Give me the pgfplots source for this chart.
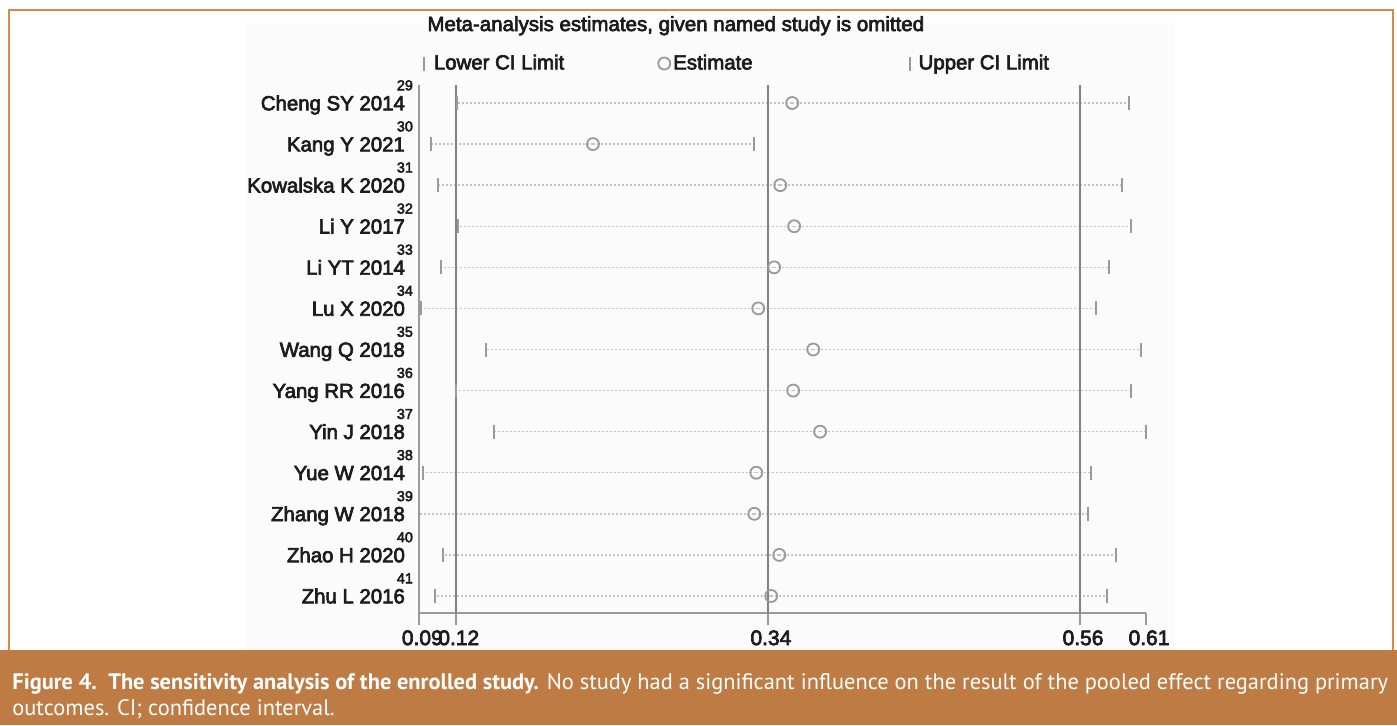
\documentclass[border=0pt]{standalone}
\usepackage{pgfplots}
\pgfplotsset{compat=1.18}
\usepackage{pgfplotstable}
\usepackage{fontspec}
\setmainfont{Liberation Sans}[FakeBold=3.2]
\newfontfamily\capfont{PT Sans}
\definecolor{band}{HTML}{BE7C44}
\definecolor{bord}{HTML}{D9894A}
\definecolor{refl}{HTML}{828282}
\definecolor{mk}{HTML}{9A9A9A}
\definecolor{dotc}{HTML}{C4C4C4}
\definecolor{txt}{HTML}{1C1C1C}
\definecolor{plotbg}{HTML}{FBFBFB}
\newcommand\refnum[1]{\makebox[0pt][r]{\raisebox{10pt}[0pt][0pt]{\fontsize{7.2pt}{7.2pt}\selectfont #1\kern-4pt}}}

\pgfplotstableread{
y lo est hi
1 0.1211 0.3571 0.5946
2 0.1027 0.2167 0.3304
3 0.1077 0.3487 0.5897
4 0.1218 0.3585 0.5960
5 0.1098 0.3444 0.5805
6 0.0955 0.3332 0.5713
7 0.1415 0.3719 0.6030
8 0.1204 0.3578 0.5960
9 0.1471 0.3768 0.6065
10 0.0971 0.3318 0.5678
11 0.0943 0.3304 0.5657
12 0.1112 0.3480 0.5854
13 0.1056 0.3423 0.5791
}\data

\begin{document}
\begin{tikzpicture}[x=0.5pt,y=0.5pt]
\useasboundingbox (0,0) rectangle (1397,725);
\fill[white] (0,0) rectangle (1397,725);
\fill[plotbg] (245,75) rectangle (1175,702);
\fill[band] (0,0) rectangle (1397,75);
\draw[bord, line width=1.2pt] (9,75) -- (9,715) -- (1393,715) -- (1393,75);
\node[anchor=base west, inner sep=0pt, text=white, font=\capfont\fontsize{11.2pt}{13pt}\selectfont] at (12,36) {\textbf{Figure 4.\ \ The sensitivity analysis of the enrolled study.} No study had a significant influence on the result of the pooled effect regarding primary};
\node[anchor=base west, inner sep=0pt, text=white, font=\capfont\fontsize{11.2pt}{13pt}\selectfont] at (12,10) {outcomes. CI; confidence interval.};

\begin{axis}[
  at={(209.65pt,56pt)}, anchor=south west, scale only axis,
  width=363.35pt, height=264pt,
  xmin=0.0943, xmax=0.6065, ymin=0.562, ymax=13.414, y dir=reverse,
  clip=false,
  axis x line*=bottom, axis y line*=left,
  axis line style={mk, line width=1pt, -},
  xtick={0.0943,0.12,0.34,0.56,0.6065},
  xticklabels={0.09,0.12,0.34,0.56,0.61},
  ytick={1,...,13},
  yticklabels={Cheng SY 2014\refnum{29}, Kang Y 2021\refnum{30}, Kowalska K 2020\refnum{31}, Li Y 2017\refnum{32}, Li YT 2014\refnum{33}, Lu X 2020\refnum{34}, Wang Q 2018\refnum{35}, Yang RR 2016\refnum{36}, Yin J 2018\refnum{37}, Yue W 2014\refnum{38}, Zhang W 2018\refnum{39}, Zhao H 2020\refnum{40}, Zhu L 2016\refnum{41}},
  xtick pos=bottom, ytick pos=left,
  tick align=outside, major tick length=6pt,
  xtick style={mk, line width=1pt},
  ytick style={draw=none},
  xticklabel style={inner sep=0pt, yshift=-2.5pt, xshift=1.5pt, font=\fontsize{10.5pt}{12pt}\selectfont, text=txt},
  yticklabel style={inner sep=0pt, anchor=base east, yshift=-3.65pt, xshift=-1pt, font=\fontsize{10.2pt}{12pt}\selectfont, text=txt},
  title={Meta-analysis estimates, given named study is omitted},
  title style={at={(0.0106,1.0795)}, anchor=base west, inner sep=0pt, font=\fontsize{10.25pt}{12pt}\selectfont, text=txt},
  legend columns=3,
  legend style={at={(0.0058,1.0407)}, anchor=west, draw=none, fill=none, inner sep=0pt, nodes={inner sep=0pt, text=txt}, font=\fontsize{10.2pt}{12pt}\selectfont, column sep=0pt, row sep=0pt},
  legend cell align=left,
  legend image code/.code={\draw[#1] plot coordinates {(0pt,0pt)};},
]
\addplot[draw=none, mark=none, forget plot, error bars/.cd, x dir=both, x explicit, error mark=none, error bar style={draw=dotc, line width=0.7pt, dash pattern=on 1pt off 1pt}] table[x=est, y=y, x error plus expr=\thisrow{hi}-\thisrow{est}, x error minus expr=\thisrow{est}-\thisrow{lo}] {\data};
\addplot[refl, line width=1pt, forget plot] coordinates {(0.12,0.562) (0.12,13.414)};
\addplot[refl, line width=1pt, forget plot] coordinates {(0.34,0.562) (0.34,13.414)};
\addplot[refl, line width=1pt, forget plot] coordinates {(0.56,0.562) (0.56,13.414)};
\addplot[only marks, mark=|, mark size=3.5pt, mk, mark options={line width=1pt}] table[x=lo, y=y] {\data};
\addlegendentry{\hspace*{5pt}Lower CI Limit\hspace*{47pt}}
\addplot[only marks, mark=o, mark size=3pt, mk, mark options={line width=0.9pt, fill=plotbg}] table[x=est, y=y] {\data};
\addlegendentry{\hspace*{1.5pt}Estimate\hspace*{78.5pt}}
\addplot[only marks, mark=|, mark size=3.5pt, mk, mark options={line width=1pt}] table[x=hi, y=y] {\data};
\addlegendentry{\hspace*{4.5pt}Upper CI Limit}
\end{axis}
\end{tikzpicture}
\end{document}
